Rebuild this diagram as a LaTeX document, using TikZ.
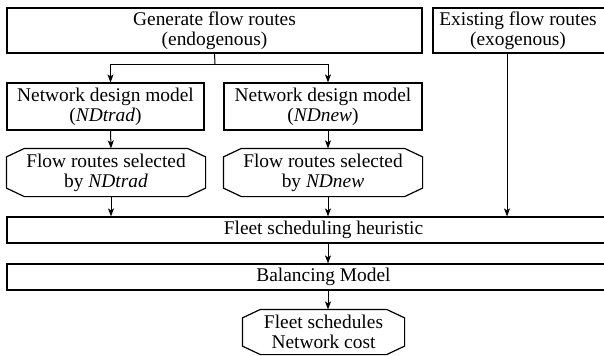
\documentclass[tikz,border=0pt]{standalone}
\usepackage{fontspec}
\setmainfont{Liberation Serif}
\usetikzlibrary{arrows.meta}

\tikzset{
  box/.style={draw, line width=0.6pt, align=center, inner sep=0pt},
  hexbox/.style={box, draw=none},
  link/.style={line width=0.5pt}
}
% outline with cut corners round a named node
\newcommand\cutcorners[1]{%
  \draw[line width=0.6pt] ([xshift=9pt]#1.north west) -- ([xshift=-9pt]#1.north east)
    -- ([yshift=-4.25pt]#1.north east) -- ([yshift=4.25pt]#1.south east)
    -- ([xshift=-9pt]#1.south east) -- ([xshift=9pt]#1.south west)
    -- ([yshift=4.25pt]#1.south west) -- ([yshift=-4.25pt]#1.north west) -- cycle;}

\begin{document}
\begin{tikzpicture}[x=0.5pt, y=-0.5pt, font=\fontsize{9.7}{10}\selectfont,
    >={Stealth[length=4pt,width=3pt,inset=1pt]}]
  \useasboundingbox (0,0) rectangle (604,355);

  % upper row
  \node[box, minimum width=207.5pt, minimum height=22.5pt] (gen) at (214.5,30.5)
    {Generate flow routes\\(endogenous)};
  \node[box, minimum width=89pt, minimum height=22.5pt] (exist) at (522,30.5)
    {\hspace*{-4pt}Existing flow routes\\\hspace*{-4pt}(exogenous)};

  % the two network design models
  \node[box, minimum width=98.5pt, minimum height=23.5pt] (ndtrad) at (105.5,106.5)
    {Network design model\\(\textit{NDtrad})};
  \node[box, minimum width=99pt, minimum height=23.5pt] (ndnew) at (323,106.5)
    {Network design model\\(\textit{NDnew})};
  \node[hexbox, minimum width=99pt, minimum height=23.5pt] (seltrad) at (106,172.5)
    {Flow routes selected\\by \textit{NDtrad}};
  \node[hexbox, minimum width=99pt, minimum height=23.5pt] (selnew) at (323,172.5)
    {Flow routes selected\\by \textit{NDnew}};
  \cutcorners{seltrad}
  \cutcorners{selnew}

  % lower part
  \node[box, minimum width=316.5pt, minimum height=13pt] (fleet) at (323.5,230)
    {Fleet scheduling heuristic};
  \node[box, minimum width=316.5pt, minimum height=13pt] (bal) at (323.5,277)
    {Balancing Model};
  \node[hexbox, minimum width=80.5pt, minimum height=22pt] (out) at (323.5,332)
    {Fleet schedules\\Network cost};
  \cutcorners{out}

  % connectors
  \coordinate (split) at (215,64);
  \draw[link] (gen.south) -- (split);
  \draw[link,->] (split) -| ([xshift=2.5pt]ndtrad.north);
  \draw[link,->] (split) -| ([xshift=2.5pt]ndnew.north);
  \draw[link,->] ([xshift=2.5pt]ndtrad.south) -- ([xshift=2.5pt]seltrad.north);
  \draw[link,->] ([xshift=2.5pt]ndnew.south) -- ([xshift=2.5pt]selnew.north);
  \draw[link,->] ([xshift=2.5pt]seltrad.south) -- ([xshift=2.5pt]seltrad.south |- fleet.north);
  \draw[link,->] ([xshift=2.5pt]selnew.south) -- ([xshift=2.5pt]selnew.south |- fleet.north);
  \draw[link,->] ([xshift=-7.5pt]exist.south) -- ([xshift=-7.5pt]exist.south |- fleet.north);
  \draw[link,->] ([xshift=2.25pt]fleet.south) -- ([xshift=2.25pt]bal.north);
  \draw[link,->] ([xshift=2.25pt]bal.south) -- ([xshift=2.25pt]out.north);
\end{tikzpicture}
\end{document}
